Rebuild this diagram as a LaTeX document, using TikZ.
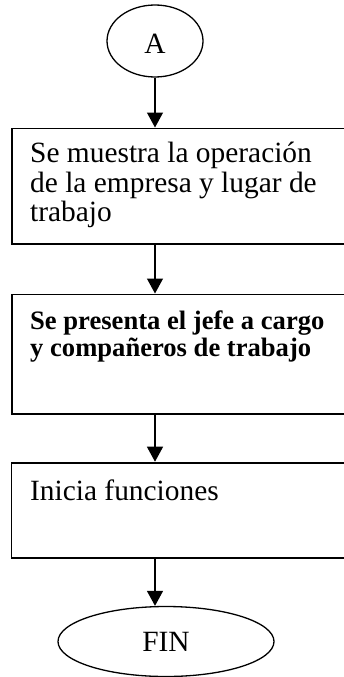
\documentclass[tikz,border=0pt]{standalone}
\usepackage{fontspec}
\setmainfont{Liberation Serif}
\usetikzlibrary{shapes.geometric,arrows.meta}

\begin{document}
\begin{tikzpicture}[x=1pt, y=-1pt,
  caja/.style = {draw, rectangle, line width=1.8pt, minimum width=345pt, anchor=north west, inner sep=0pt},
  term/.style = {draw, ellipse, line width=1.3pt, inner sep=0pt, font=\fontsize{29.4}{29.5}\selectfont},
  texto/.style = {anchor=base west, align=left, inner sep=0pt, font=\fontsize{29.4}{29.5}\selectfont},
  flecha/.style = {line width=1.3pt, -{Triangle[length=15pt, width=16pt]}}]
  \useasboundingbox (0,0) rectangle (344,677);
  \clip (0,0) rectangle (344,677);
  % terminales
  \node[term, minimum width=96pt, minimum height=72pt, text height=24.6pt] (A) at (155,41) {A};
  \node[term, minimum width=216pt, minimum height=70pt] (fin) at (166,641.5) {FIN};
  % cajas
  \node[caja, minimum height=115.5pt] (muestra) at (11,127.5) {};
  \node[caja, minimum height=119.5pt] (presenta) at (11,293.5) {};
  \node[caja, minimum height=95pt] (inicia) at (10.5,461.7) {};
  % textos (base = ultima linea)
  \node[texto] (tmuestra) at (30,221.5) {Se muestra la operación\\de la empresa y lugar de\\trabajo};
  \node[texto, font=\bfseries\fontsize{26.6}{27.4}\selectfont] (tpresenta) at (30,356.4) {Se presenta el jefe a cargo\\y compañeros de trabajo};
  \node[texto] (tinicia) at (30,500) {Inicia funciones};
  % flechas
  \draw[flecha] (A.south) -- (A.south |- muestra.north);
  \draw[flecha] (muestra.south -| A) -- (presenta.north -| A);
  \draw[flecha] (presenta.south -| A) -- (inicia.north -| A);
  \draw[flecha] (inicia.south -| A) -- (A |- fin.north);
\end{tikzpicture}
\end{document}
